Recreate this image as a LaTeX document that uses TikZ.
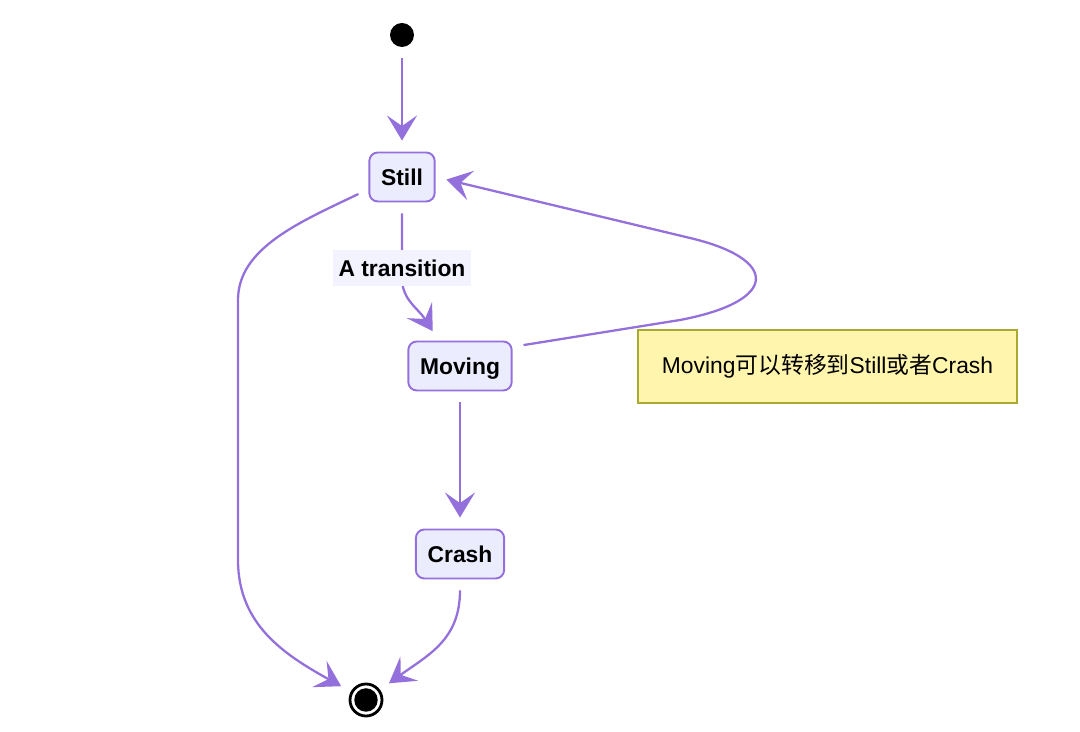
\documentclass[tikz,border=0pt]{standalone}
\usepackage{fontspec}
\setmainfont{Liberation Sans}
\newfontfamily\cjk{Noto Sans CJK SC}
\usetikzlibrary{positioning,arrows.meta}
\definecolor{edgepurple}{HTML}{9370DB}
\definecolor{statefill}{HTML}{ECECFF}
\definecolor{notefill}{HTML}{FFF5AD}
\definecolor{noteline}{HTML}{AAAA33}
\definecolor{labelfill}{HTML}{F3F2FF}

\begin{document}
\begin{tikzpicture}[x=0.02cm,y=-0.02cm,
    state/.style={draw=edgepurple,fill=statefill,line width=1.1pt,
      rounded corners=0.17cm,minimum height=0.98cm,inner xsep=0.235cm,
      text height=11pt,text depth=1.3pt,
      font=\fontsize{13}{15}\selectfont\bfseries},
    trans/.style={draw=edgepurple,line width=1.3pt,
      -{Stealth[length=0.5cm,width=0.6cm,inset=0.21cm]},
      shorten <=0.22cm,shorten >=0.22cm},
    edgelabel/.style={fill=labelfill,inner xsep=0.11cm,minimum height=0.72cm,
      font=\fontsize{13}{15}\selectfont\bfseries},
    note/.style={draw=noteline,fill=notefill,line width=0.9pt,
      minimum width=7.58cm,minimum height=1.46cm,
      font=\fontsize{13}{15}\selectfont}]
  \useasboundingbox (0,0) rectangle (1080,732);
  % States
  \node (start) [circle,fill=black,minimum size=0.48cm,inner sep=0pt] at (402,35) {};
  \node (still) [state] at (402,177) {Still};
  \node (moving) [state] at (460,366) {Moving};
  \node (crash) [state] at (460,554) {Crash};
  \node (end) [circle,draw=black,line width=1.6pt,fill=white,minimum size=0.64cm,inner sep=0pt,
    path picture={\fill[black] (path picture bounding box.center) circle (0.235cm);}] at (366,700) {};
  % Note
  \node (note) [note] at (827.5,366.5) {Moving{\cjk 可以转移到}Still{\cjk 或者}Crash};
  % Transitions
  \draw[trans] (start) -- (still);
  \draw[trans] (still.south) -- (402,278) .. controls (402,300) and (418,308) .. (moving.130);
  \node (lbl) [edgelabel] at (402,268) {A transition};
  \draw[trans] (moving.20) -- (680,320) .. controls (780,301) and (779,259) .. (690,238) -- (still.east);
  \draw[trans] (still.200) .. controls (300,222) and (238,248) .. (238,300) -- (238,560)
    .. controls (238,625) and (285,655) .. (end);
  \draw[trans] (moving.south) -- (crash.north);
  \draw[trans] (crash.south) .. controls (460,640) and (428,655) .. (end);
\end{tikzpicture}
\end{document}
